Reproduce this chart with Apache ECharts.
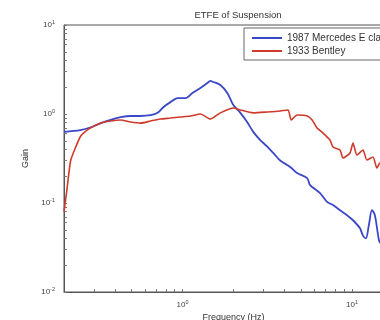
<!DOCTYPE html>
<html>
<head>
<meta charset="utf-8">
<script src="https://cdn.jsdelivr.net/npm/echarts@6/dist/echarts.min.js"></script>
<style>
  html, body { margin: 0; padding: 0; background: #fff; }
  #chart { width: 380px; height: 320px; }
</style>
</head>
<body>
<div id="chart"></div>
<script>
// values (frequency in Hz, gain)
const blueFreq = [0.2, 0.25, 0.288, 0.33, 0.377, 0.432, 0.494, 0.566, 0.648, 0.713, 0.773, 0.85, 0.935, 1.04, 1.145, 1.276, 1.403, 1.461, 1.521, 1.673, 1.839, 1.995, 2.195, 2.412, 2.616, 2.876, 3.162, 3.43, 3.77, 4.32, 4.75, 5.44, 5.66, 6.48, 7.13, 7.73, 8.5, 9.35, 10.14, 11.15, 11.61, 12.08, 12.59, 13.12, 13.65, 14.22, 14.62, 15.85, 17.18, 18.66, 19.95]
const blueGain = [0.63, 0.66, 0.71, 0.79, 0.86, 0.92, 0.95, 0.95, 0.97, 1.03, 1.2, 1.36, 1.51, 1.51, 1.72, 1.96, 2.23, 2.35, 2.29, 2.12, 1.72, 1.26, 1.03, 0.81, 0.63, 0.51, 0.43, 0.365, 0.30, 0.254, 0.217, 0.19, 0.159, 0.129, 0.103, 0.095, 0.083, 0.073, 0.064, 0.052, 0.043, 0.040, 0.057, 0.083, 0.073, 0.045, 0.036, 0.034, 0.040, 0.032, 0.035]

const redFreq = [0.2, 0.208, 0.219, 0.235, 0.251, 0.269, 0.288, 0.33, 0.377, 0.432, 0.494, 0.566, 0.648, 0.742, 0.85, 0.973, 1.115, 1.276, 1.461, 1.673, 1.995, 2.195, 2.616, 3.162, 3.77, 4.2, 4.38, 4.75, 5.44, 5.82, 6.22, 6.75, 7.42, 7.73, 8.5, 8.85, 9.73, 10.14, 10.7, 11.61, 12.25, 13.3, 14.03, 14.62, 15.85, 17.18, 18.66, 19.95]
const redGain = [0.08, 0.14, 0.30, 0.43, 0.566, 0.644, 0.70, 0.79, 0.834, 0.856, 0.813, 0.79, 0.834, 0.879, 0.90, 0.925, 0.95, 1.0, 0.879, 1.03, 1.168, 1.109, 1.03, 1.053, 1.08, 1.109, 0.856, 0.974, 0.95, 0.856, 0.696, 0.611, 0.51, 0.426, 0.394, 0.32, 0.365, 0.472, 0.346, 0.394, 0.304, 0.329, 0.247, 0.281, 0.25, 0.30, 0.22, 0.26]

const seriesNames = ['1987 Mercedes E class', '1933 Bentley']

const xMajorTicks = [1, 10]
const xAllTicks = [0.3, 0.4, 0.5, 0.6, 0.7, 0.8, 0.9, 1, 2, 3, 4, 5, 6, 7, 8, 9, 10]
const yMajorTicks = [0.01, 0.1, 1, 10]
const yAllTicks = [0.01, 0.02, 0.03, 0.04, 0.05, 0.06, 0.07, 0.08, 0.09, 0.1, 0.2, 0.3, 0.4, 0.5, 0.6, 0.7, 0.8, 0.9, 1, 2, 3, 4, 5, 6, 7, 8, 9, 10]

const zip = (xs, ys) => xs.map((x, i) => [x, ys[i]])

const powLabel = (v) => {
    const e = Math.round(Math.log10(v))
    return '{b|10}{s|' + e + '}'
}

const labelRich = {
    b: { fontSize: 8, color: '#444' },
    s: { fontSize: 5.5, color: '#444', padding: [0, 0, 5, 0] },
}

const chart = echarts.init(document.getElementById('chart'))

chart.setOption({
    animation: false,
    textStyle: { fontFamily: 'Liberation Sans' },
    title: {
        text: 'ETFE of Suspension',
        left: 233,
        textAlign: 'center',
        top: 5,
        textStyle: { fontSize: 9.5, fontWeight: 'normal', color: '#333' },
    },
    legend: {
        orient: 'vertical',
        left: 244,
        top: 28,
        icon: 'rect',
        itemWidth: 30,
        itemHeight: 2,
        itemGap: 3,
        padding: [5, 6, 4, 8],
        backgroundColor: '#fff',
        borderColor: '#666',
        borderWidth: 1,
        borderRadius: 0,
        textStyle: { fontSize: 10, color: '#333' },
        data: seriesNames,
    },
    grid: {
        left: 64,
        top: 25,
        bottom: 28,
        right: -23,
        show: true,
        borderColor: '#555',
        borderWidth: 1,
        outerBoundsMode: 'none',
    },
    xAxis: {
        type: 'log',
        logBase: 10,
        min: 0.2,
        max: 20,
        name: 'Frequency (Hz)',
        nameLocation: 'middle',
        nameGap: 14,
        nameTextStyle: { fontSize: 9, color: '#333' },
        axisLine: { lineStyle: { color: '#555' } },
        axisTick: { inside: true, length: 3, customValues: xAllTicks, lineStyle: { color: '#777' } },
        axisLabel: { customValues: xMajorTicks, margin: 7, formatter: powLabel, rich: labelRich },
        splitLine: { show: false },
    },
    yAxis: {
        type: 'log',
        logBase: 10,
        min: 0.01,
        max: 10,
        name: 'Gain',
        nameLocation: 'middle',
        nameGap: 25,
        nameTextStyle: { fontSize: 9, color: '#333' },
        axisLine: { lineStyle: { color: '#555' } },
        axisTick: { inside: true, length: 3, customValues: yAllTicks, lineStyle: { color: '#777' } },
        axisLabel: { customValues: yMajorTicks, margin: 9, formatter: powLabel, rich: labelRich },
        splitLine: { show: false },
    },
    series: [
        {
            name: seriesNames[0],
            type: 'line',
            data: zip(blueFreq, blueGain),
            showSymbol: false,
            smooth: 0.3,
            lineStyle: { width: 1.8, color: '#3a48c8' },
            itemStyle: { color: '#3a48c8' },
        },
        {
            name: seriesNames[1],
            type: 'line',
            data: zip(redFreq, redGain),
            showSymbol: false,
            smooth: 0.2,
            lineStyle: { width: 1.6, color: '#cf3a2a' },
            itemStyle: { color: '#cf3a2a' },
        },
    ],
})
</script>
</body>
</html>
